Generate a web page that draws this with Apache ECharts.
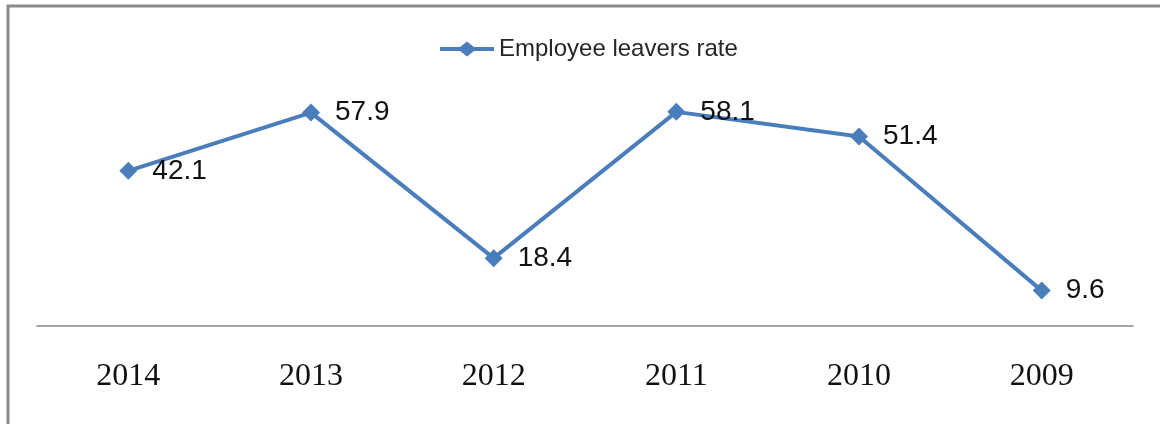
<!DOCTYPE html>
<html>
<head>
<meta charset="utf-8">
<script src="https://cdn.jsdelivr.net/npm/echarts@6/dist/echarts.min.js"></script>
<style>
  html, body { margin: 0; padding: 0; background: #fff; }
  #chart { width: 1160px; height: 424px; }
</style>
</head>
<body>
<div id="chart"></div>
<script>
// Yearly values, newest year first
const years = ['2014', '2013', '2012', '2011', '2010', '2009'];
const leaversRate = [42.1, 57.9, 18.4, 58.1, 51.4, 9.6];
const seriesName = 'Employee leavers rate';

// Legend key: a short line segment with a diamond in the middle
const lineDiamondIcon =
  'path://M0,5.5L20,5.5L27,0L34,5.5L54,5.5L54,9.5L34,9.5L27,15L20,9.5L0,9.5Z';

const chart = echarts.init(document.getElementById('chart'));
chart.setOption({
  backgroundColor: '#ffffff',
  animation: false,
  graphic: [{
    type: 'rect',
    shape: { x: 8, y: 6, width: 1300, height: 600 },
    style: { fill: 'none', stroke: '#8a8a8a', lineWidth: 3 },
    silent: true
  }],
  legend: {
    top: 32,
    left: 435,
    itemWidth: 54,
    itemHeight: 15,
    itemGap: 4,
    textStyle: { fontFamily: 'Liberation Sans, Arial, sans-serif', fontSize: 24, color: '#262626' },
    data: [{ name: seriesName, icon: lineDiamondIcon }]
  },
  grid: { left: 37, right: 27, top: 68, bottom: 98, containLabel: false },
  xAxis: {
    type: 'category',
    data: years,
    boundaryGap: true,
    axisLine: { lineStyle: { color: '#868686', width: 1.5 } },
    axisTick: { show: false },
    axisLabel: {
      margin: 35,
      fontFamily: 'Liberation Serif, Times New Roman, serif',
      fontSize: 32,
      color: '#111'
    }
  },
  yAxis: {
    type: 'value',
    min: 0,
    max: 70,
    show: false,
    splitLine: { show: false }
  },
  series: [{
    name: seriesName,
    type: 'line',
    data: leaversRate,
    symbol: 'diamond',
    symbolSize: 18,
    color: '#4a7ebb',
    lineStyle: { width: 4, color: '#4a7ebb' },
    itemStyle: { color: '#4a7ebb' },
    label: {
      show: true,
      position: 'right',
      distance: 15,
      fontFamily: 'Liberation Sans, Arial, sans-serif',
      fontSize: 28,
      color: '#111'
    }
  }]
});
</script>
</body>
</html>
